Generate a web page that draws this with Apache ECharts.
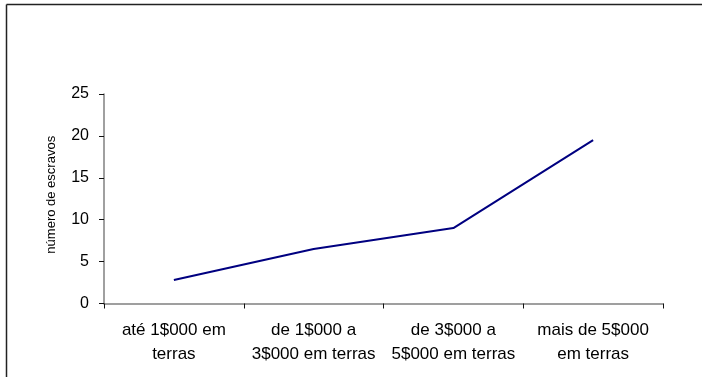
<!DOCTYPE html>
<html>
<head>
<meta charset="utf-8">
<script src="https://cdn.jsdelivr.net/npm/echarts@6/dist/echarts.min.js"></script>
<style>
html,body{margin:0;padding:0;background:#fff;}
#c{width:702px;height:377px;}
</style>
</head>
<body>
<div id="c"></div>
<script>
const categories = ["até 1$000 em\nterras", "de 1$000 a\n3$000 em terras", "de 3$000 a\n5$000 em terras", "mais de 5$000\nem terras"];
const escravos = [2.8, 6.5, 9.0, 19.5];
const yName = "número de escravos";

const chart = echarts.init(document.getElementById('c'), null, {renderer: 'canvas'});
chart.setOption({
  animation: false,
  backgroundColor: '#fff',
  graphic: [
    {type: 'line', shape: {x1: 6.5, y1: 4.5, x2: 702, y2: 4.5}, style: {stroke: '#222', lineWidth: 1.5}, silent: true},
    {type: 'line', shape: {x1: 6.5, y1: 4.5, x2: 6.5, y2: 377}, style: {stroke: '#222', lineWidth: 1.5}, silent: true}
  ],
  grid: {left: 104, right: 39, top: 94, bottom: 73.5, containLabel: false},
  xAxis: {
    type: 'category',
    data: categories,
    boundaryGap: true,
    axisLine: {lineStyle: {color: '#808080', width: 1.5}},
    axisTick: {show: true, length: 5, lineStyle: {color: '#111'}},
    axisLabel: {interval: 0, margin: 15, fontFamily: 'Liberation Sans', fontSize: 17, lineHeight: 24, color: '#000', align: 'center'},
    splitLine: {show: false}
  },
  yAxis: {
    type: 'value',
    min: 0, max: 25, interval: 5,
    name: yName,
    nameLocation: 'middle',
    nameRotate: 90,
    nameGap: 46,
    nameTextStyle: {fontFamily: 'Liberation Sans', fontSize: 13, color: '#000', padding: [0, 0, 0, 8]},
    axisLine: {show: true, lineStyle: {color: '#808080', width: 1.5}},
    axisTick: {show: true, length: 5, lineStyle: {color: '#111'}},
    axisLabel: {margin: 15, fontFamily: 'Liberation Sans', fontSize: 16, color: '#000'},
    splitLine: {show: false}
  },
  series: [{
    type: 'line',
    data: escravos,
    showSymbol: false,
    symbol: 'none',
    lineStyle: {color: '#000080', width: 2},
    itemStyle: {color: '#000080'}
  }]
});
</script>
</body>
</html>
